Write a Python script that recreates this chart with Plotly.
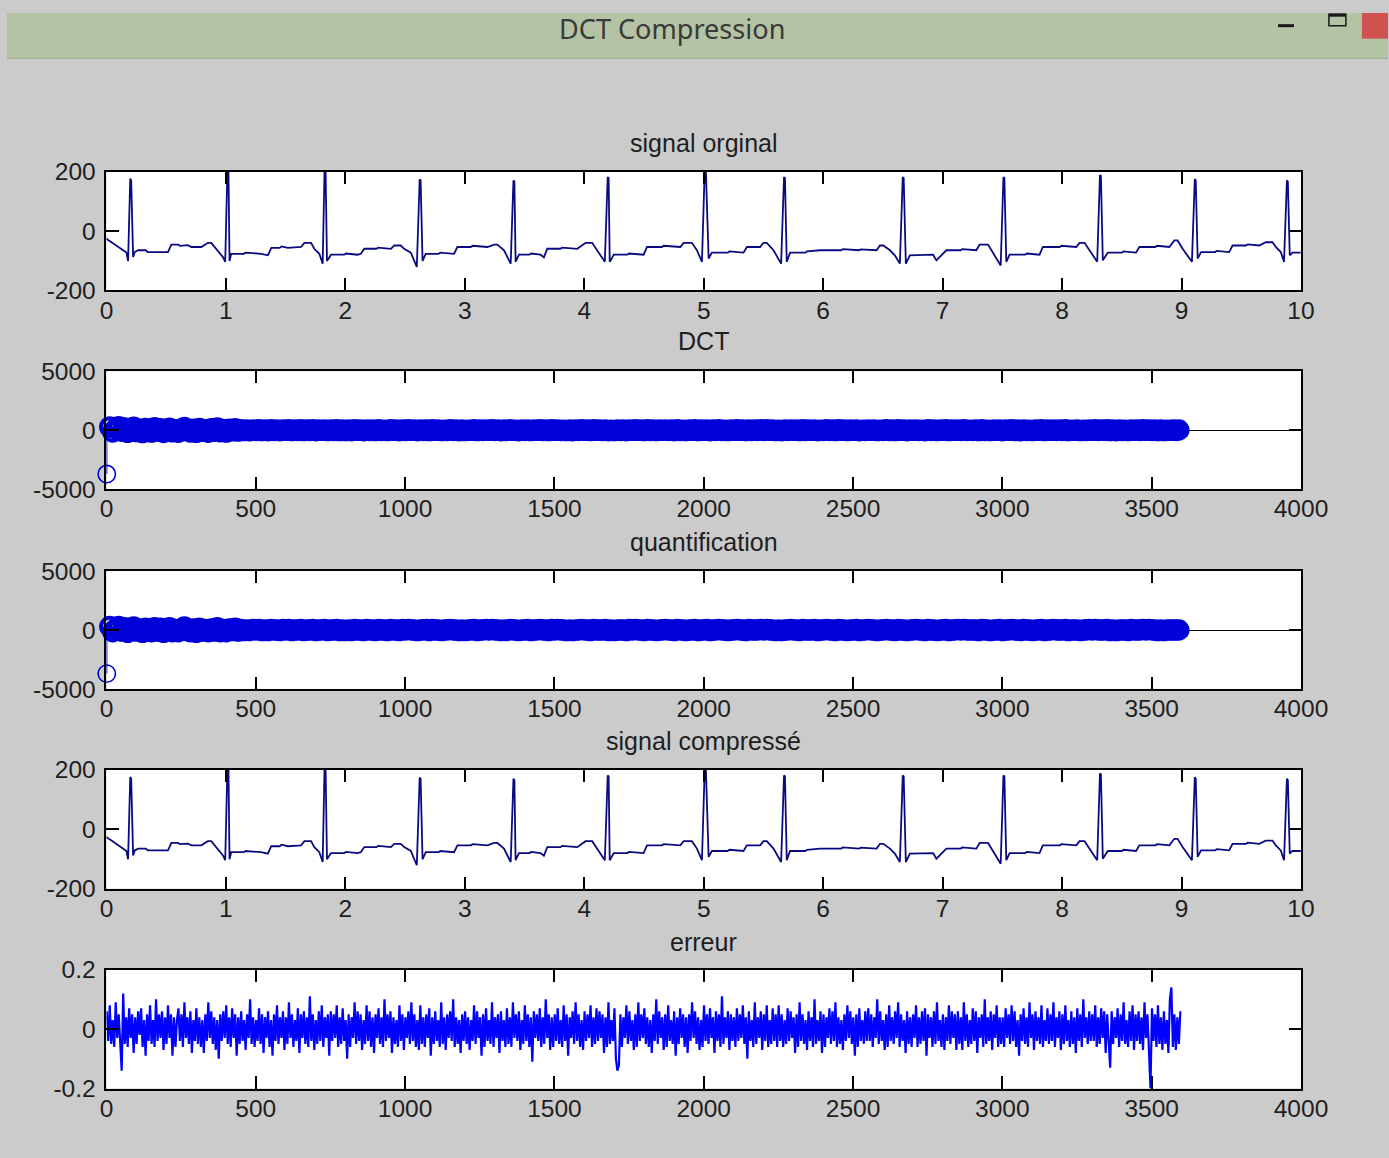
import numpy as np
import plotly.graph_objects as go

# figure size in px (the page keeps its default 8 px body margin)
BODY = 8
W, H = 1415, 1171
# design grid (px) -> figure px
GRID_S, GRID_OX, GRID_OY = 0.978, -2.5, 4.5

# ---------------------------------------------------------------- data
# ECG record, 10 s: (time [s], amplitude) vertices of the trace
sig_t = [0.000, 0.008, 0.042, 0.084, 0.125, 0.167, 0.181, 0.199, 0.207, 0.223, 0.237, 0.265, 0.330, 0.345, 0.515,
         0.543, 0.600, 0.615, 0.682, 0.710, 0.794, 0.849, 0.877, 0.905, 0.947, 0.975, 0.994, 1.013, 1.021, 1.030, 1.044,
         1.150, 1.165, 1.295, 1.351, 1.380, 1.450, 1.465, 1.518, 1.629, 1.657, 1.713, 1.740, 1.782, 1.810, 1.826, 1.834,
         1.846, 1.880, 1.990, 2.005, 2.102, 2.130, 2.158, 2.260, 2.275, 2.381, 2.409, 2.464, 2.492, 2.548, 2.598, 2.622,
         2.630, 2.646, 2.673, 2.780, 2.795, 2.910, 2.938, 3.050, 3.065, 3.189, 3.245, 3.272, 3.328, 3.384, 3.407, 3.415,
         3.425, 3.453, 3.540, 3.555, 3.634, 3.662, 3.690, 3.800, 3.815, 3.941, 4.011, 4.066, 4.108, 4.172, 4.196, 4.204,
         4.213, 4.247, 4.360, 4.375, 4.497, 4.525, 4.650, 4.665, 4.804, 4.832, 4.901, 4.943, 4.985, 5.009, 5.017, 5.041,
         5.068, 5.200, 5.215, 5.333, 5.361, 5.472, 5.500, 5.528, 5.584, 5.648, 5.672, 5.680, 5.695, 5.723, 5.850, 5.865,
         5.974, 6.150, 6.165, 6.300, 6.315, 6.447, 6.475, 6.503, 6.559, 6.600, 6.642, 6.666, 6.674, 6.692, 6.726, 6.836,
         6.920, 6.948, 7.031, 7.150, 7.165, 7.282, 7.310, 7.380, 7.422, 7.486, 7.509, 7.517, 7.533, 7.561, 7.690, 7.705,
         7.811, 7.839, 7.980, 7.995, 8.118, 8.146, 8.188, 8.230, 8.294, 8.317, 8.325, 8.341, 8.383, 8.500, 8.515, 8.619,
         8.647, 8.780, 8.795, 8.898, 8.940, 8.967, 9.009, 9.087, 9.111, 9.119, 9.135, 9.163, 9.280, 9.295, 9.399, 9.427,
         9.540, 9.555, 9.650, 9.705, 9.761, 9.789, 9.831, 9.858, 9.882, 9.890, 9.906, 9.928, 9.998]
sig_v = [-25, -29, -38, -49, -60, -73, -101, 176, 170, -88, -71, -65, -65, -71, -71,
         -46, -46, -50, -48, -54, -54, -40, -40, -54, -73, -88, -104, 215, 215, -101, -77,
         -77, -73, -77, -82, -57, -57, -52, -57, -54, -40, -40, -60, -77, -110, 215, 215,
         -101, -80, -80, -76, -80, -77, -60, -60, -56, -60, -49, -49, -60, -73, -121, 174,
         170, -101, -77, -77, -73, -77, -54, -54, -50, -54, -46, -46, -65, -110, 170, 166,
         -104, -80, -80, -76, -80, -89, -60, -60, -56, -60, -40, -40, -65, -104, 181, 178,
         -104, -80, -80, -76, -80, -54, -54, -50, -54, -40, -40, -65, -104, 215, 215, -93,
         -73, -73, -69, -73, -54, -54, -40, -40, -65, -110, 181, 178, -104, -73, -73, -69,
         -65, -65, -61, -65, -62, -65, -49, -49, -65, -82, -110, 181, 178, -110, -82, -80,
         -80, -99, -65, -65, -61, -65, -46, -46, -73, -116, 181, 178, -104, -80, -80, -76,
         -80, -54, -54, -50, -54, -40, -40, -65, -104, 188, 185, -99, -73, -73, -69, -73,
         -54, -54, -50, -54, -32, -32, -60, -104, 175, 170, -93, -71, -71, -67, -71, -49,
         -49, -45, -49, -38, -38, -54, -71, -104, 170, 166, -82, -73, -73]

# DCT coefficients, one every 10 indices (1, 11, 21, ... 3591)
coef_step = 10
dct_coef = [
    -3720, 280, -150, 120, 310, -90, 200, -180, 60, 250, -120, 90, -200, 150, 40,
    -160, 220, -80, 130, -190, 70, 180, -140, 50, -170, 110, 230, -60, -150, 90,
    -180, 160, -100, 40, -170, 120, -90, 200, -130, 60, -160, 90, -50, 140, -80,
    40, -35, 25, -50, 30, -20, 45, -30, 15, -40, 35, -25, 20, -45, 30, -15, 50, -35, 25, -20, 40, -30, 15, -25, 35,
    -40, 20, -15, 30, -35, 25, -20, 45, -30, 15,
    -30, 20, -45, 35, -10, 25, -40, 30, -20, 15, -35, 45, -25, 10, -30, 40, -15, 20, -45, 30, -25, 35, -10, 25, -40,
    15, -20, 30, -35, 45, -15, 20, -30, 10, -25,
    35, -20, 15, -40, 25, -30, 10, -15, 45, -35, 20, -25, 30, -10, 40, -20, 15, -45, 25, -30, 35, -15, 10, -40, 20,
    -25, 30, -35, 15, -10, 45, -20, 25, -30, 40,
    -15, 30, -25, 10, -35, 20, -40, 15, -20, 35, -10, 25, -30, 45, -15, 20, -25, 30, -40, 10, -35, 15, -20, 25, -45,
    30, -10, 35, -15, 20, -30, 40, -25, 15, -35,
    20, -10, 30, -25, 15, -40, 35, -20, 10, -30, 25, -15, 40, -35, 20, -10, 30, -45, 15, -25, 35, -20, 10, -30, 25,
    -15, 40, -10, 20, -35, 30, -25, 15, -20, 45,
    -20, 35, -15, 25, -30, 10, -40, 20, -25, 30, -10, 15, -35, 40, -20, 25, -15, 30, -45, 10, -25, 35, -20, 15, -30,
    40, -10, 25, -35, 20, -15, 30, -40, 10, -25,
    30, -15, 20, -35, 10, -25, 40, -20, 15, -30, 35, -10, 25, -45, 20, -15, 30, -25, 10, -40, 35, -20, 15, -30, 25,
    -10, 40, -35, 20, -15, 30, -25, 45, -20, 10,
    -25, 15, -30, 40, -20, 10, -35, 25, -15, 30, -40, 20, -10, 35, -25, 15, -45, 30, -20, 10, -30, 25, -15, 40, -35,
    20, -10, 30, -25, 15, -20, 35, -30, 10, -15,
    25, -35, 10, -20, 30, -15, 40, -25, 20, -10, 35, -30, 15, -40, 25, -20, 10, -35, 30, -15, 20, -25, 45, -10, 30,
    -20, 15, -35, 25, -30, 10, -15, 20, -25, 15,
]
quant_step = 50

# reconstruction error, one sample every 5 indices, in units of 0.01
err_step = 5
erreur_c = [
    6, -4, 8, -5, 3, -6, 9, -3, 5, -7, -14, 12, -5, 4, -6, 7, -3, 5, -8, 4, -5, 6, -2, 7, -6, 3, -9, 5, -4, 8,
    -5, 3, -6, 10, -4, 5, -3, 6, -7, 4, -5, 8, -3, 5, -9, 4, -6, 3, 7, -4, 5, -6, 9, -3, 4, -5, 6, -8, 3, -4,
    7, -5, 4, -6, 3, -8, 5, -4, 9, -3, 6, -5, 4, -7, 3, -10, 5, -4, 6, -3, 8, -5, 4, -6, 7, -3, 5, -9, 4, -5,
    6, -4, 3, -7, 5, -3, 10, -5, 4, -6, 3, -4, 7, -5, 5, -8, 4, -3, 6, -6, 3, -9, 5, -4, 8, -5, 4, -3, 6, -7,
    4, -5, 9, -3, 5, -6, 3, -4, 7, -8, 5, -3, 6, -5, 4, -6, 11, -4, 5, -7, 3, -5, 6, -4, 8, -6, 4, -3, 5, -9,
    6, -4, 5, -3, 8, -6, 4, -5, 7, -4, 3, -10, 5, -6, 4, -3, 9, -5, 6, -4, 5, -7, 3, -5, 8, -4, 6, -6, 4, -8,
    5, -3, 7, -5, 4, -6, 10, -4, 5, -3, 6, -8, 4, -5, 3, -6, 8, -4, 5, -7, 4, -3, 6, -5, 9, -4, 5, -6, 3, -7,
    8, -5, 4, -6, 5, -3, 7, -9, 4, -5, 6, -4, 3, -6, 9, -5, 4, -7, 5, -3, 6, -4, 10, -6, 4, -5, 3, -8, 5, -4,
    6, -5, 4, -7, 3, -4, 8, -5, 6, -3, 4, -9, 5, -6, 7, -4, 3, -5, 9, -6, 4, -3, 5, -8, 6, -4, 3, -6, 7, -5,
    4, -6, 9, -3, 5, -4, 6, -7, 3, -5, 8, -4, 5, -6, 4, -11, 6, -3, 5, -4, 7, -6, 4, -5, 10, -3, 5, -7, 4, -6,
    5, -4, 7, -5, 3, -6, 8, -4, 5, -9, 4, -3, 6, -5, 9, -4, 5, -6, 3, -7, 6, -4, 5, -3, 8, -6, 4, -5, 7, -4,
    6, -3, 5, -8, 4, -6, 9, -5, 3, -4, 7, -10, -14, -12, 5, -6, 4, -3, 8, -5, 6, -4, 3, -7, 5, -6, 9, -4, 5, -3,
    7, -5, 4, -6, 3, -8, 5, -4, 10, -5, 6, -3, 4, -7, 5, -6, 8, -4, 3, -5, 6, -9, 4, -5, 7, -3, 5, -6, 4, -8,
    5, -4, 9, -3, 6, -5, 4, -7, 3, -6, 8, -4, 5, -5, 7, -3, 4, -8, 6, -4, 5, -6, 11, -5, 4, -3, 6, -7, 5, -4,
    4, -6, 7, -4, 5, -3, 8, -5, 4, -10, 6, -4, 3, -6, 9, -5, 4, -3, 6, -7, 5, -4, 8, -6, 3, -5, 7, -4, 5, -6,
    8, -4, 5, -6, 3, -5, 7, -4, 6, -3, 4, -8, 5, -6, 9, -4, 5, -5, 3, -7, 6, -4, 4, -6, 10, -5, 3, -4, 6, -8,
    5, -6, 4, -3, 7, -5, 6, -4, 9, -6, 4, -5, 3, -7, 5, -4, 8, -3, 6, -5, 4, -9, 5, -6, 7, -4, 3, -5, 6, -4,
    7, -4, 5, -6, 4, -3, 10, -5, 6, -4, 3, -7, 5, -6, 8, -4, 4, -5, 6, -3, 9, -6, 5, -4, 3, -8, 6, -5, 4, -6,
    5, -3, 8, -6, 4, -5, 6, -4, 7, -9, 5, -3, 4, -6, 6, -5, 9, -4, 3, -6, 5, -7, 4, -4, 8, -5, 6, -3, 5, -7,
    6, -5, 4, -7, 9, -4, 5, -6, 3, -5, 7, -4, 6, -8, 4, -3, 5, -6, 10, -5, 4, -4, 6, -7, 5, -3, 8, -6, 4, -5,
    4, -6, 7, -3, 5, -5, 8, -4, 6, -6, 3, -9, 5, -4, 7, -5, 4, -6, 9, -3, 5, -7, 6, -4, 4, -5, 8, -6, 3, -4,
    7, -5, 5, -4, 9, -6, 4, -3, 6, -7, 5, -5, 8, -4, 3, -6, 6, -5, 4, -8, 7, -4, 5, -6, 10, -3, 4, -5, 6, -4,
    5, -4, 8, -6, 4, -5, 7, -3, 6, -8, 5, -4, -13, 6, -5, 4, -3, 7, -6, 5, -4, 9, -5, 3, -6, 6, -4, 8, -7, 5,
    -4, 6, -5, 4, -7, 9, -3, 5, -6, -20, 7, -4, 5, -6, 8, -5, 4, -7, 6, -5, 3, -8, 10, 14, -6, 5, -7, 4, -5, 6,
]

sec_ticks = list(range(0, 11))
sig_yticks = [-200, 0, 200]
idx_ticks = list(range(0, 4001, 500))
coef_yticks = [-5000, 0, 5000]
err_yticks = [-0.2, 0, 0.2]
err_ylabels = ["-0.2", "0", "0.2"]

titles = ["signal orginal", "DCT", "quantification", "signal compressé", "erreur"]

# ---------------------------------------------------------------- derived series
dct_arr = np.array(dct_coef, dtype=float)
coef_idx = 1 + coef_step * np.arange(len(dct_arr))
quant_arr = np.round(dct_arr / quant_step) * quant_step
erreur = np.array(erreur_c, dtype=float) / 100.0
err_idx = 1 + err_step * np.arange(len(erreur))


def stems(x, y):
    xs, ys = [], []
    for a, b in zip(x, y):
        xs += [a, a, None]
        ys += [0, b, None]
    return xs, ys


# ---------------------------------------------------------------- layout helpers
def px(x):
    """grid x -> paper fraction"""
    return ((x - GRID_OX) / GRID_S - BODY) / W


def py(y):
    """grid y (from top) -> paper fraction"""
    return 1 - ((y - GRID_OY) / GRID_S - BODY) / H


def sz(v):
    return v / GRID_S


PLOT_L, PLOT_R = 105, 1302
rows = [(171, 290), (371, 489), (571, 689), (770, 889), (970, 1089)]
TICK_FONT = dict(family="Liberation Sans, Arial, sans-serif", size=sz(24), color="#1e1e1e")

fig = go.Figure()

ecg_color = "#0a0a80"
stem_blue = "#0000d8"
err_blue = "#0000ff"

# stem markers: isolated circles keep a thin ring, the packed ones a thick one
ring_w = [1.6 if abs(v) > 1000 else 4.0 for v in dct_coef]


def stem_traces(vals, xa, ya):
    sx, sy = stems(coef_idx, vals)
    return [
        go.Scatter(x=sx, y=sy, mode="lines", line=dict(color=stem_blue, width=1.2),
                   xaxis=xa, yaxis=ya, hoverinfo="skip"),
        go.Scatter(x=coef_idx, y=vals, mode="markers", cliponaxis=False,
                   marker=dict(symbol="circle-open", size=sz(17), color=stem_blue,
                               line=dict(width=ring_w, color=stem_blue)),
                   xaxis=xa, yaxis=ya, hoverinfo="skip"),
    ]


# 1: original signal
fig.add_trace(go.Scatter(x=sig_t, y=sig_v, mode="lines", line=dict(color=ecg_color, width=1.8),
                         xaxis="x", yaxis="y", hoverinfo="skip"))
# 2: DCT (stem)
for tr in stem_traces(dct_arr, "x2", "y2"):
    fig.add_trace(tr)
# 3: quantification (stem)
for tr in stem_traces(quant_arr, "x3", "y3"):
    fig.add_trace(tr)
# 4: compressed signal
fig.add_trace(go.Scatter(x=sig_t, y=sig_v, mode="lines", line=dict(color=ecg_color, width=1.8),
                         xaxis="x4", yaxis="y4", hoverinfo="skip"))
# 5: error
fig.add_trace(go.Scatter(x=err_idx, y=erreur, mode="lines", line=dict(color=err_blue, width=2.2),
                         xaxis="x5", yaxis="y5", hoverinfo="skip"))


def axis(domain, rng, tickvals, ticktext=None, zeroline=False, **kw):
    d = dict(domain=domain, range=rng, tickmode="array", tickvals=tickvals,
             ticktext=ticktext if ticktext is not None else [str(v) for v in tickvals],
             showline=True, linecolor="black", linewidth=1.7, mirror="ticks",
             ticks="inside", ticklen=sz(12), tickwidth=1.7, tickcolor="black",
             showgrid=False, zeroline=zeroline, zerolinecolor="black", zerolinewidth=1.2,
             tickfont=TICK_FONT, fixedrange=True)
    d.update(kw)
    return d


xdom = [px(PLOT_L), px(PLOT_R)]
ydoms = [[py(b), py(t)] for (t, b) in rows]

layout = dict(
    width=W, height=H, margin=dict(l=0, r=0, t=0, b=0),
    paper_bgcolor="#cbcbcb", plot_bgcolor="white", showlegend=False,
)
xspecs = [([0, 10], sec_ticks), ([0, 4000], idx_ticks), ([0, 4000], idx_ticks), ([0, 10], sec_ticks), ([0, 4000], idx_ticks)]
yspecs = [([-200, 200], sig_yticks, None, False),
          ([-5000, 5000], coef_yticks, None, True),
          ([-5000, 5000], coef_yticks, None, True),
          ([-200, 200], sig_yticks, None, False),
          ([-0.2, 0.2], err_yticks, err_ylabels, False)]
for i in range(5):
    sfx = "" if i == 0 else str(i + 1)
    xr, xt = xspecs[i]
    yr, yt, ytxt, zl = yspecs[i]
    layout["xaxis" + sfx] = axis(xdom, xr, xt, anchor="y" + sfx, ticklabelstandoff=-3)
    layout["yaxis" + sfx] = axis(ydoms[i], yr, yt, ytxt, zeroline=zl, anchor="x" + sfx, ticklabelstandoff=4)

fig.update_layout(**layout)

# title bar and window controls
shapes = [
    dict(type="rect", xref="paper", yref="paper", x0=0, x1=1, y0=py(57), y1=1,
         fillcolor="#b3c3a3", line=dict(width=0), layer="below"),
    dict(type="line", xref="paper", yref="paper", x0=0, x1=1, y0=py(57.5), y1=py(57.5),
         line=dict(color="#a3b195", width=1.5), layer="below"),
    dict(type="line", xref="paper", yref="paper", x0=px(1279), x1=px(1295), y0=py(25), y1=py(25),
         line=dict(color="#1a1a1a", width=3)),
    dict(type="rect", xref="paper", yref="paper", x0=px(1330), x1=px(1347), y0=py(25), y1=py(13.5),
         fillcolor="rgba(0,0,0,0)", line=dict(color="#1a1a1a", width=1.5)),
    dict(type="line", xref="paper", yref="paper", x0=px(1330), x1=px(1347), y0=py(14.5), y1=py(14.5),
         line=dict(color="#1a1a1a", width=3)),
    dict(type="rect", xref="paper", yref="paper", x0=px(1363), x1=1, y0=py(38), y1=1,
         fillcolor="#cf5150", line=dict(width=0)),
]
fig.update_layout(shapes=shapes)

annotations = [dict(text="DCT Compression", x=px(672), y=py(28), xref="paper", yref="paper",
                    showarrow=False, xanchor="center", yanchor="middle",
                    font=dict(family="Noto Sans, Open Sans, sans-serif", size=sz(26.5), color="#3a3a3a"))]
title_y = [142, 341, 542, 741, 942]
for name, ty in zip(titles, title_y):
    annotations.append(dict(text=name, x=px((PLOT_L + PLOT_R) / 2), y=py(ty), xref="paper", yref="paper",
                            showarrow=False, xanchor="center", yanchor="middle",
                            font=dict(family="Liberation Sans, Arial, sans-serif", size=sz(24.5), color="#1e1e1e")))
fig.update_layout(annotations=annotations)

fig.write_html("out.html")
